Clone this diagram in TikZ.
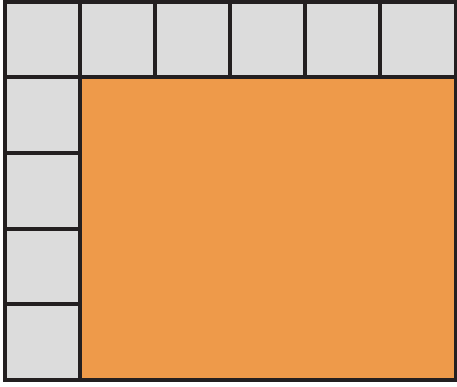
\documentclass[tikz,border=0pt]{standalone}
\usepackage{tikz}
\definecolor{cellgray}{HTML}{DCDCDC}
\definecolor{tileorange}{HTML}{EE9A4A}
\definecolor{edgeblack}{HTML}{231F20}

\begin{document}
\begin{tikzpicture}[
    x=1pt, y=-1pt,
    cell/.style={draw=edgeblack, fill=cellgray, line width=4pt},
    bigtile/.style={draw=edgeblack, fill=tileorange, line width=4pt},
  ]
    \useasboundingbox (0,0) rectangle (457,387);
    % large orange area
    \draw[bigtile] (79.7,77) rectangle (455.5,380);
    % top row of squares
    \foreach \i in {0,...,5}
      \draw[cell] ({4.5+75.17*\i},2.5) rectangle ++(75.17,74.5);
    % left column of squares
    \foreach \j in {0,...,3}
      \draw[cell] (4.5,{77+75.75*\j}) rectangle ++(75.2,75.75);
  \end{tikzpicture}
\end{document}
